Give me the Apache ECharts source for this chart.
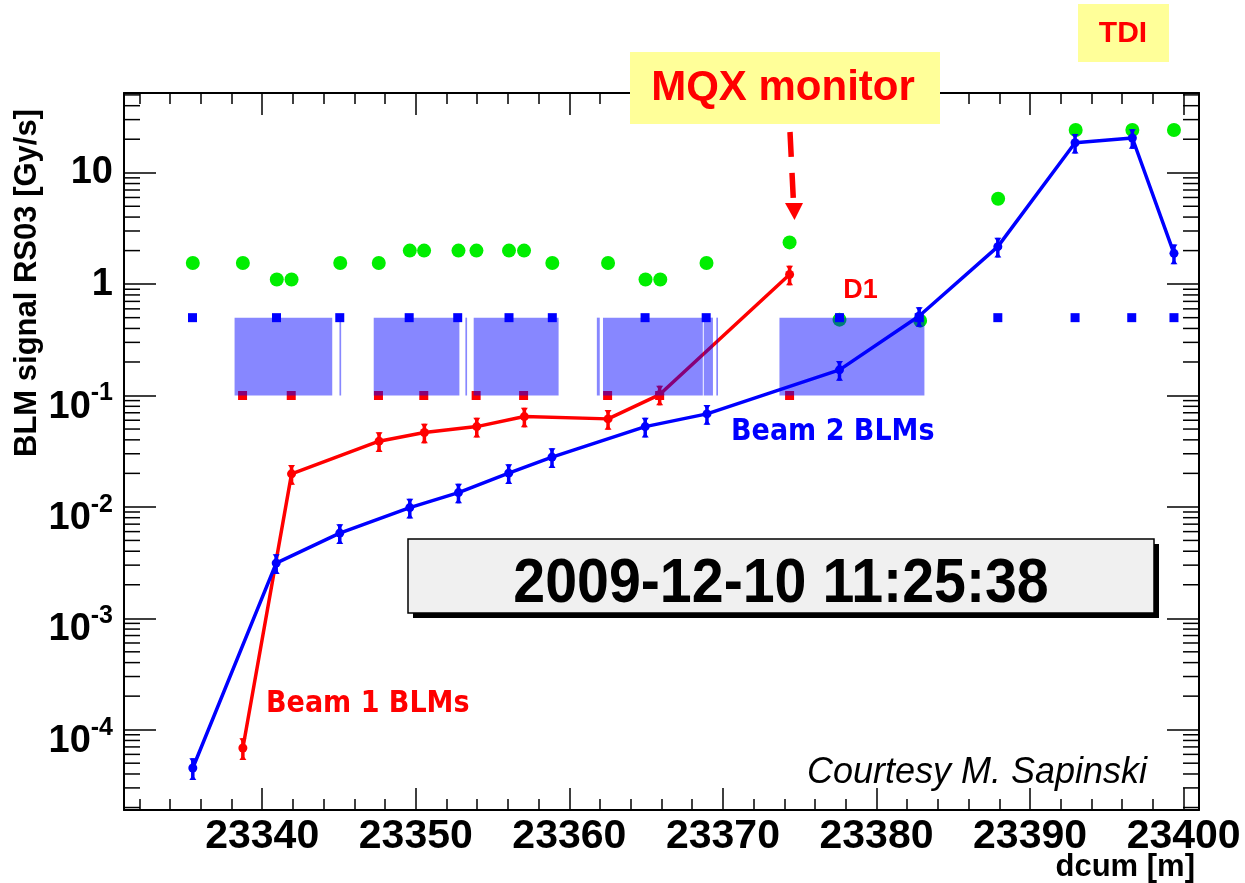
<!DOCTYPE html>
<html><head><meta charset="utf-8">
<script src="https://cdn.jsdelivr.net/npm/echarts@6/dist/echarts.min.js"></script>
<style>html,body{margin:0;padding:0;background:#fff}#c{width:1245px;height:883px}</style>
</head><body><div id="c"></div>
<script>
// ---- axes ----
const xMin = 23331, xMax = 23401;
const yMin = 1.9e-5, yMax = 52;
const xTickLabels = [23340, 23350, 23360, 23370, 23380, 23390, 23400];
const yDecades = [-4, -3, -2, -1, 0, 1];

// ---- Beam 1 BLMs (red line) ----
const beam1X = [23338.74, 23341.91, 23347.61, 23350.56, 23353.97, 23357.07, 23362.52, 23365.88, 23374.34];
const beam1Y = [6.85e-5, 0.0198, 0.0389, 0.0465, 0.0526, 0.0647, 0.0617, 0.102, 1.22];
const beam1Err = [0.22, 0.2, 0.2, 0.2, 0.2, 0.2, 0.2, 0.2, 0.2];

// ---- Beam 2 BLMs (blue line) ----
const beam2X = [23335.48, 23340.91, 23345.05, 23349.61, 23352.78, 23356.05, 23358.87, 23364.94, 23368.96, 23377.59, 23382.78, 23387.90, 23392.93, 23396.66, 23399.37];
const beam2Y = [4.53e-5, 3.13e-3, 5.82e-3, 9.86e-3, 0.01345, 0.0201, 0.028, 0.0526, 0.0684, 0.17, 0.518, 2.17, 18.6, 20.5, 1.89];
const beam2Err = [0.22, 0.2, 0.2, 0.2, 0.2, 0.2, 0.2, 0.2, 0.2, 0.2, 0.2, 0.2, 0.2, 0.2, 0.2];

// ---- thresholds (green) ----
const threshX = [23335.48, 23338.74, 23340.95, 23341.91, 23345.08, 23347.59, 23349.61, 23350.54, 23352.78, 23353.95, 23356.07, 23357.05, 23358.89, 23362.52, 23364.96, 23365.92, 23368.93, 23374.34, 23377.59, 23382.84, 23387.92, 23392.97, 23396.66, 23399.37];
const threshY = [1.55, 1.55, 1.1, 1.1, 1.55, 1.55, 2.0, 2.0, 2.0, 2.0, 2.0, 2.0, 1.55, 1.55, 1.1, 1.1, 1.55, 2.37, 0.48, 0.47, 5.84, 24.2, 24.2, 24.2];

// ---- monitor position markers ----
const beam2MonX = [23335.46, 23340.93, 23345.05, 23349.57, 23352.73, 23356.07, 23358.89, 23364.93, 23368.91, 23377.59, 23382.78, 23387.90, 23392.93, 23396.62, 23399.37];
const beam2MonLevel = 0.5;
const beam1MonX = [23338.72, 23341.89, 23347.57, 23350.52, 23353.93, 23357.02, 23362.49, 23365.88, 23374.34];
const beam1MonLevel = 0.1;

// ---- magnets (hatched boxes) ----
const magnetStart = [23338.20, 23345.03, 23347.26, 23353.23, 23353.77, 23361.79, 23362.19, 23368.75, 23369.57, 23373.68];
const magnetEnd   = [23344.56, 23345.14, 23352.84, 23353.34, 23359.30, 23361.98, 23368.69, 23369.35, 23369.68, 23383.12];
const magnetTop = 0.5, magnetBottom = 0.1;

const FONT = '"Liberation Sans", Arial, Helvetica, sans-serif';

// minor log ticks (2..9 x 10^k)
const yMinorTicks = [];
for (let k = -5; k <= 1; k++) for (let m = 2; m <= 9; m++) {
  const v = m * Math.pow(10, k);
  if (v > yMin && v < yMax) yMinorTicks.push(v);
}

function errRender(color) {
  return function (params, api) {
    const x = api.value(0), y = api.value(1), e = api.value(2);
    const hi = api.coord([x, y * (1 + e)]);
    const lo = api.coord([x, y * (1 - e)]);
    const st = { stroke: color, lineWidth: 3.5 };
    return { type: 'group', children: [
      { type: 'line', shape: { x1: hi[0], y1: hi[1], x2: lo[0], y2: lo[1] }, style: st },
      { type: 'polygon', shape: { points: [[hi[0] - 3.5, hi[1]], [hi[0] + 3.5, hi[1]], [hi[0], hi[1] + 5]] }, style: { fill: color } },
      { type: 'polygon', shape: { points: [[lo[0] - 3.5, lo[1]], [lo[0] + 3.5, lo[1]], [lo[0], lo[1] - 5]] }, style: { fill: color } }
    ]};
  };
}

function isDecade(v) {
  const l = Math.log10(v);
  const r = Math.round(l);
  return Math.abs(l - r) < 1e-6 && yDecades.indexOf(r) >= 0 ? r : null;
}

const chart = echarts.init(document.getElementById('c'), null, { renderer: 'canvas' });

const xCommon = {
  type: 'value', min: xMin, max: xMax, splitNumber: 7,
  axisLine: { show: true, onZero: false, lineStyle: { color: '#000', width: 2 } },
  axisTick: { show: true, inside: true, length: 22, lineStyle: { color: '#000', width: 1.5 } },
  minorTick: { show: true, splitNumber: 5, length: 11, lineStyle: { color: '#000', width: 1.5 } },
  splitLine: { show: false }, minorSplitLine: { show: false }
};
const yCommon = {
  type: 'log', logBase: 10, min: yMin, max: yMax,
  axisLine: { show: true, onZero: false, lineStyle: { color: '#000', width: 2 } },
  axisTick: { show: true, inside: true, length: 32, lineStyle: { color: '#000', width: 1.5 } },
  splitLine: { show: false }
};

chart.setOption({
  animation: false,
  backgroundColor: '#fff',
  grid: { left: 124, top: 93, width: 1075, height: 717, containLabel: false },
  xAxis: [
    Object.assign({}, xCommon, {
      position: 'bottom',
      axisLabel: {
        show: true, margin: 6, color: '#000', fontSize: 41, fontWeight: 'bold', fontFamily: FONT,
        showMinLabel: true, showMaxLabel: true,
        formatter: function (v) {
          const r = Math.round(v);
          return (Math.abs(v - r) < 1e-6 && xTickLabels.indexOf(r) >= 0) ? String(r) : '';
        }
      }
    }),
    Object.assign({}, xCommon, { position: 'top', axisLabel: { show: false } })
  ],
  yAxis: [
    Object.assign({}, yCommon, {
      position: 'left',
      axisLabel: {
        show: true, margin: 11, color: '#000', fontSize: 38, fontWeight: 'bold', fontFamily: FONT,
        formatter: function (v) {
          const e = isDecade(v);
          if (e === null) return '';
          if (e === 0) return '1';
          if (e === 1) return '10';
          return '{b|10}{s|' + e + '}';
        },
        rich: {
          b: { fontSize: 38, fontWeight: 'bold', fontFamily: FONT, color: '#000', lineHeight: 61, verticalAlign: 'bottom' },
          s: { fontSize: 25, fontWeight: 'bold', fontFamily: FONT, color: '#000', lineHeight: 61, verticalAlign: 'bottom', padding: [0, 0, 20, 0] }
        }
      }
    }),
    Object.assign({}, yCommon, { position: 'right', axisLabel: { show: false } })
  ],
  series: [
    { // thresholds
      type: 'scatter', name: 'threshold', symbol: 'circle', symbolSize: 14,
      itemStyle: { color: '#00ee00', opacity: 1 },
      data: threshX.map((x, i) => [x, threshY[i]]), z: 2
    },
    { // Beam 1 line
      type: 'line', name: 'Beam 1', symbol: 'circle', symbolSize: 9, showSymbol: true,
      lineStyle: { color: '#ff0000', width: 3.5 }, itemStyle: { color: '#ff0000', opacity: 1 },
      data: beam1X.map((x, i) => [x, beam1Y[i]]), z: 3
    },
    { // Beam 1 error bars
      type: 'custom', name: 'Beam 1 err', renderItem: errRender('#ff0000'),
      encode: { x: 0, y: 1 },
      data: beam1X.map((x, i) => [x, beam1Y[i], beam1Err[i]]), z: 3
    },
    { // Beam 1 monitor markers
      type: 'scatter', symbol: 'rect', symbolSize: 9, itemStyle: { color: '#ff0000', opacity: 1 },
      data: beam1MonX.map(x => [x, beam1MonLevel]), z: 3
    },
    { // magnets
      type: 'custom', name: 'magnets',
      encode: { x: [0, 1], y: [2, 3] },
      renderItem: function (params, api) {
        const p1 = api.coord([api.value(0), api.value(2)]);
        const p2 = api.coord([api.value(1), api.value(3)]);
        return { type: 'rect', shape: { x: p1[0], y: p1[1], width: Math.max(p2[0] - p1[0], 1.5), height: p2[1] - p1[1] },
          style: { fill: 'rgba(0,0,255,0.47)' } };
      },
      data: magnetStart.map((s, i) => [s, magnetEnd[i], magnetTop, magnetBottom]), z: 4
    },
    { // Beam 2 line
      type: 'line', name: 'Beam 2', symbol: 'circle', symbolSize: 9, showSymbol: true,
      lineStyle: { color: '#0000ff', width: 3.5 }, itemStyle: { color: '#0000ff', opacity: 1 },
      data: beam2X.map((x, i) => [x, beam2Y[i]]), z: 5
    },
    {
      type: 'custom', name: 'Beam 2 err', renderItem: errRender('#0000ff'),
      encode: { x: 0, y: 1 },
      data: beam2X.map((x, i) => [x, beam2Y[i], beam2Err[i]]), z: 5
    },
    {
      type: 'scatter', symbol: 'rect', symbolSize: 9, itemStyle: { color: '#0000ff', opacity: 1 },
      data: beam2MonX.map(x => [x, beam2MonLevel]), z: 6
    },
    { // minor log ticks on left and right frame
      type: 'custom', name: 'yminor', silent: true,
      encode: { x: 0, y: 1 },
      renderItem: function (params, api) {
        const v = api.value(1);
        const l = api.coord([xMin, v]);
        const r = api.coord([xMax, v]);
        const st = { stroke: '#000', lineWidth: 1.5 };
        return { type: 'group', children: [
          { type: 'line', shape: { x1: l[0], y1: l[1], x2: l[0] + 16, y2: l[1] }, style: st },
          { type: 'line', shape: { x1: r[0] - 16, y1: r[1], x2: r[0], y2: r[1] }, style: st }
        ]};
      },
      data: yMinorTicks.map(v => [xMin, v]), z: 7
    }
  ],
  graphic: [
    // Y title
    { type: 'text', x: 27, y: 283, rotation: Math.PI / 2,
      style: { text: 'BLM signal RS03 [Gy/s]', font: 'bold 31px ' + FONT, fill: '#000', textAlign: 'center', textVerticalAlign: 'middle' } },
    // X title
    { type: 'text', x: 1195, y: 867,
      style: { text: 'dcum [m]', font: 'bold 31px ' + FONT, fill: '#000', textAlign: 'right', textVerticalAlign: 'middle' } },
    // MQX box
    { type: 'rect', shape: { x: 630, y: 52, width: 310, height: 72 }, style: { fill: '#ffff99' }, z: 20 },
    { type: 'text', x: 783, y: 88, z: 21,
      style: { text: 'MQX monitor', font: 'bold 42px ' + FONT, fill: '#ff0000', textAlign: 'center', textVerticalAlign: 'middle' } },
    // dashed arrow
    { type: 'polyline', z: 21, shape: { points: [[790, 132], [793.5, 203]] },
      style: { stroke: '#ff0000', lineWidth: 5.5, lineDash: [25, 16], fill: null } },
    { type: 'polygon', z: 21, shape: { points: [[785, 203], [803, 203], [794.5, 220]] }, style: { fill: '#ff0000' } },
    // TDI box
    { type: 'rect', shape: { x: 1078, y: 4, width: 91, height: 58 }, style: { fill: '#ffff99' }, z: 20 },
    { type: 'text', x: 1123, y: 34, z: 21,
      style: { text: 'TDI', font: 'bold 30px ' + FONT, fill: '#ff0000', textAlign: 'center', textVerticalAlign: 'middle' } },
    // D1
    { type: 'text', x: 860.5, y: 291, z: 21,
      style: { text: 'D1', font: 'bold 27px ' + FONT, fill: '#ff0000', textAlign: 'center', textVerticalAlign: 'middle' } },
    // Beam labels
    { type: 'text', x: 731, y: 432, scaleX: 0.9, z: 21,
      style: { text: 'Beam 2 BLMs', font: 'bold 30px "DejaVu Sans", sans-serif', fill: '#0000ff', textAlign: 'left', textVerticalAlign: 'middle' } },
    { type: 'text', x: 266, y: 704, scaleX: 0.9, z: 21,
      style: { text: 'Beam 1 BLMs', font: 'bold 30px "DejaVu Sans", sans-serif', fill: '#ff0000', textAlign: 'left', textVerticalAlign: 'middle' } },
    // date box with shadow
    { type: 'rect', shape: { x: 413, y: 544, width: 746, height: 74 }, style: { fill: '#000' }, z: 20 },
    { type: 'rect', shape: { x: 408, y: 539, width: 746, height: 74 }, style: { fill: '#f0f0f0', stroke: '#000', lineWidth: 1.5 }, z: 21 },
    { type: 'text', x: 781, y: 585, scaleX: 0.91, z: 22,
      style: { text: '2009-12-10 11:25:38', font: 'bold 63px ' + FONT, fill: '#000', textAlign: 'center', textVerticalAlign: 'middle' } },
    // courtesy
    { type: 'text', x: 1147, y: 773, z: 21,
      style: { text: 'Courtesy M. Sapinski', font: 'italic 36px ' + FONT, fill: '#000', textAlign: 'right', textVerticalAlign: 'middle' } }
  ]
});
</script></body></html>
